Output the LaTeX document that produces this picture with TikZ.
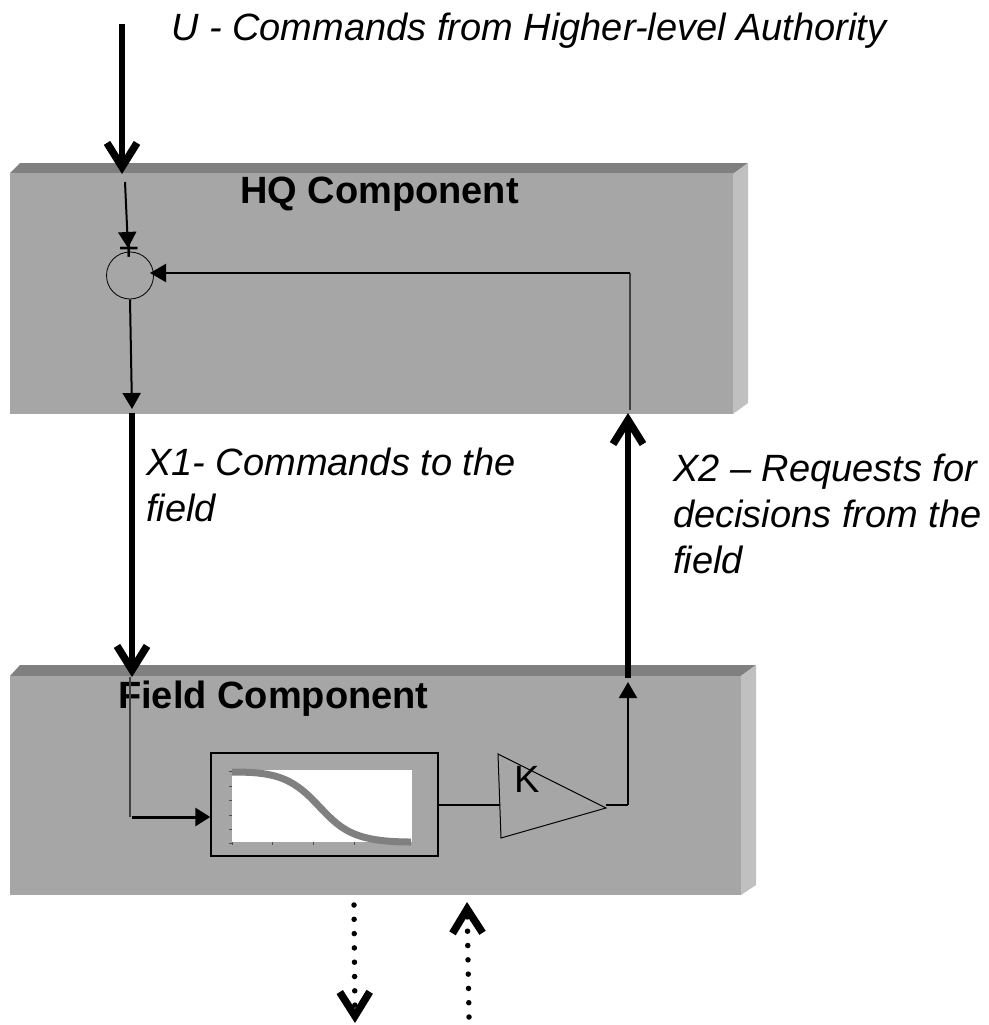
\documentclass[tikz,border=0pt]{standalone}
\usepackage{fontspec}
\setmainfont{Liberation Sans}
\usetikzlibrary{arrows.meta}
\definecolor{blockfront}{HTML}{A6A6A6}
\definecolor{blocktop}{HTML}{808080}
\definecolor{blockside}{HTML}{C0C0C0}
\begin{document}
\begin{tikzpicture}[x=1pt,y=-1pt]
\tikzstyle{flowlabel}=[anchor=west, inner sep=0pt, align=left,
	font=\fontsize{38}{46}\selectfont\itshape,
]
\tikzstyle{blocktitle}=[anchor=base west, inner sep=0pt,
	font=\fontsize{38}{40}\selectfont\bfseries,
]
\tikzstyle{bigflow}=[line width=6pt, -{Straight Barb[length=24pt,width=30pt,line width=7.5pt]}]
\tikzstyle{smallflow}=[line width=2pt, -{Triangle[length=16pt,width=18pt]}]
\tikzstyle{dotflow}=[line width=5.5pt, line cap=round, dash pattern=on 0pt off 14.3pt,
	-{Straight Barb[length=24pt,width=30pt,line width=7.5pt,line cap=butt]}]
\useasboundingbox (0,0) rectangle (988,1025);
% blocks
\fill[blocktop] (10,173) -- (20,163) -- (748,163) -- (733,174) -- cycle;
\fill[blockside] (733,174) -- (748,163) -- (748,403) -- (733,414) -- cycle;
\fill[blockfront] (10,173) rectangle (733,414);
\fill[blocktop] (10,676) -- (20,665) -- (756,665) -- (741,676) -- cycle;
\fill[blockside] (741,676) -- (756,665) -- (756,885) -- (741,895) -- cycle;
\fill[blockfront] (10,676) rectangle (741,895);
\node[blocktitle] (hqtitle) at (240,203) {HQ Component};
\node[blocktitle] (fieldtitle) at (118,708) {Field Component};
% labels
\node[flowlabel] (ulabel) at (171,31) {U - Commands from Higher-level Authority};
\node[flowlabel] (xonelabel) at (146,485) {X1- Commands to the\\field};
\node[flowlabel] (xtwolabel) at (673,514) {X2 – Requests for\\decisions from the\\field};
% free ends
\coordinate (ustart) at (122,24);
\coordinate (uend) at (122,174);
\coordinate (sumin) at (125,182);
\coordinate (sumtop) at (128,248);
\coordinate (sumright) at (150,273);
\coordinate (hqout) at (132,409);
\coordinate (xonestart) at (132,413);
\coordinate (xoneend) at (132,677);
\coordinate (fieldin) at (130,677);
\coordinate (fieldturn) at (130,817);
\coordinate (fieldcorner) at (132,817);
\coordinate (gaintop) at (498,754);
\coordinate (gaintip) at (606,808);
\coordinate (gainbottom) at (501,838);
\coordinate (gainin) at (500,805);
\coordinate (gainleave) at (606,805);
\coordinate (gainout) at (628,805);
\coordinate (gainup) at (628,682);
\coordinate (xtwostart) at (628,678);
\coordinate (xtwoend) at (628,413);
\coordinate (hqin) at (630,410);
\coordinate (hqcorner) at (630,273);
\coordinate (dotdownstart) at (354,905);
\coordinate (dotdownend) at (355,1023);
\coordinate (dotupstart) at (469,1017);
\coordinate (dotupend) at (467,902);
% summing point
\node[circle, draw=black, line width=0.8pt, minimum size=47pt, inner sep=0pt] (sum) at (130,275.5) {};
\node[inner sep=0pt, font=\fontsize{36}{36}\selectfont] (plus) at (129,250) {+};
% curve box
\node[rectangle, draw=black, line width=1.5pt, minimum width=227pt, minimum height=103pt,
	inner sep=0pt] (curvebox) at (324.5,804.5) {};
\node[rectangle, fill=white, minimum width=180pt, minimum height=72pt,
	inner sep=0pt] (curveplot) at (322,806) {};
\foreach \ytick in {771,786,800,815,829,843} {
	\draw[black!70, line width=0.6pt] (229,\ytick) -- (232,\ytick);
}
\foreach \xtick in {232,272,313,354} {
	\draw[black!70, line width=0.6pt] (\xtick,842) -- (\xtick,845);
}
\draw[blocktop, line width=7pt] (232,772) .. controls (270,772) and (288,776) .. (310,797)
	.. controls (338,825) and (345,842) .. (411,842);
% gain
\draw[line width=1pt] (gaintop) -- (gaintip) -- (gainbottom) -- cycle;
\node[inner sep=0pt, font=\fontsize{38}{38}\selectfont] (gainlabel) at (527,779) {K};
% connectors
\draw[bigflow] (ustart) -- (uend);
\draw[smallflow] (sumin) -- (sumtop);
\draw[smallflow] (sum.south) -- (hqout);
\draw[bigflow] (xonestart) -- (xoneend);
\draw[blocktop!50!black, line width=2pt] (fieldin) -- (fieldturn);
\draw[line width=3pt, -{Triangle[length=15pt,width=18pt]}] (fieldcorner) -- (curvebox.west |- fieldcorner);
\draw[line width=1.2pt] (curvebox.east |- gainin) -- (gainin);
\draw[line width=1.2pt] (gainleave) -- (gainout);
\draw[smallflow] (gainout) -- (gainup);
\draw[bigflow] (xtwostart) -- (xtwoend);
\draw[blocktop!50!black, line width=2pt] (hqin) -- (hqcorner);
\draw[smallflow] (hqcorner) -- (sumright);
\draw[dotflow] (dotdownstart) -- (dotdownend);
\draw[dotflow] (dotupstart) -- (dotupend);
\end{tikzpicture}
\end{document}
